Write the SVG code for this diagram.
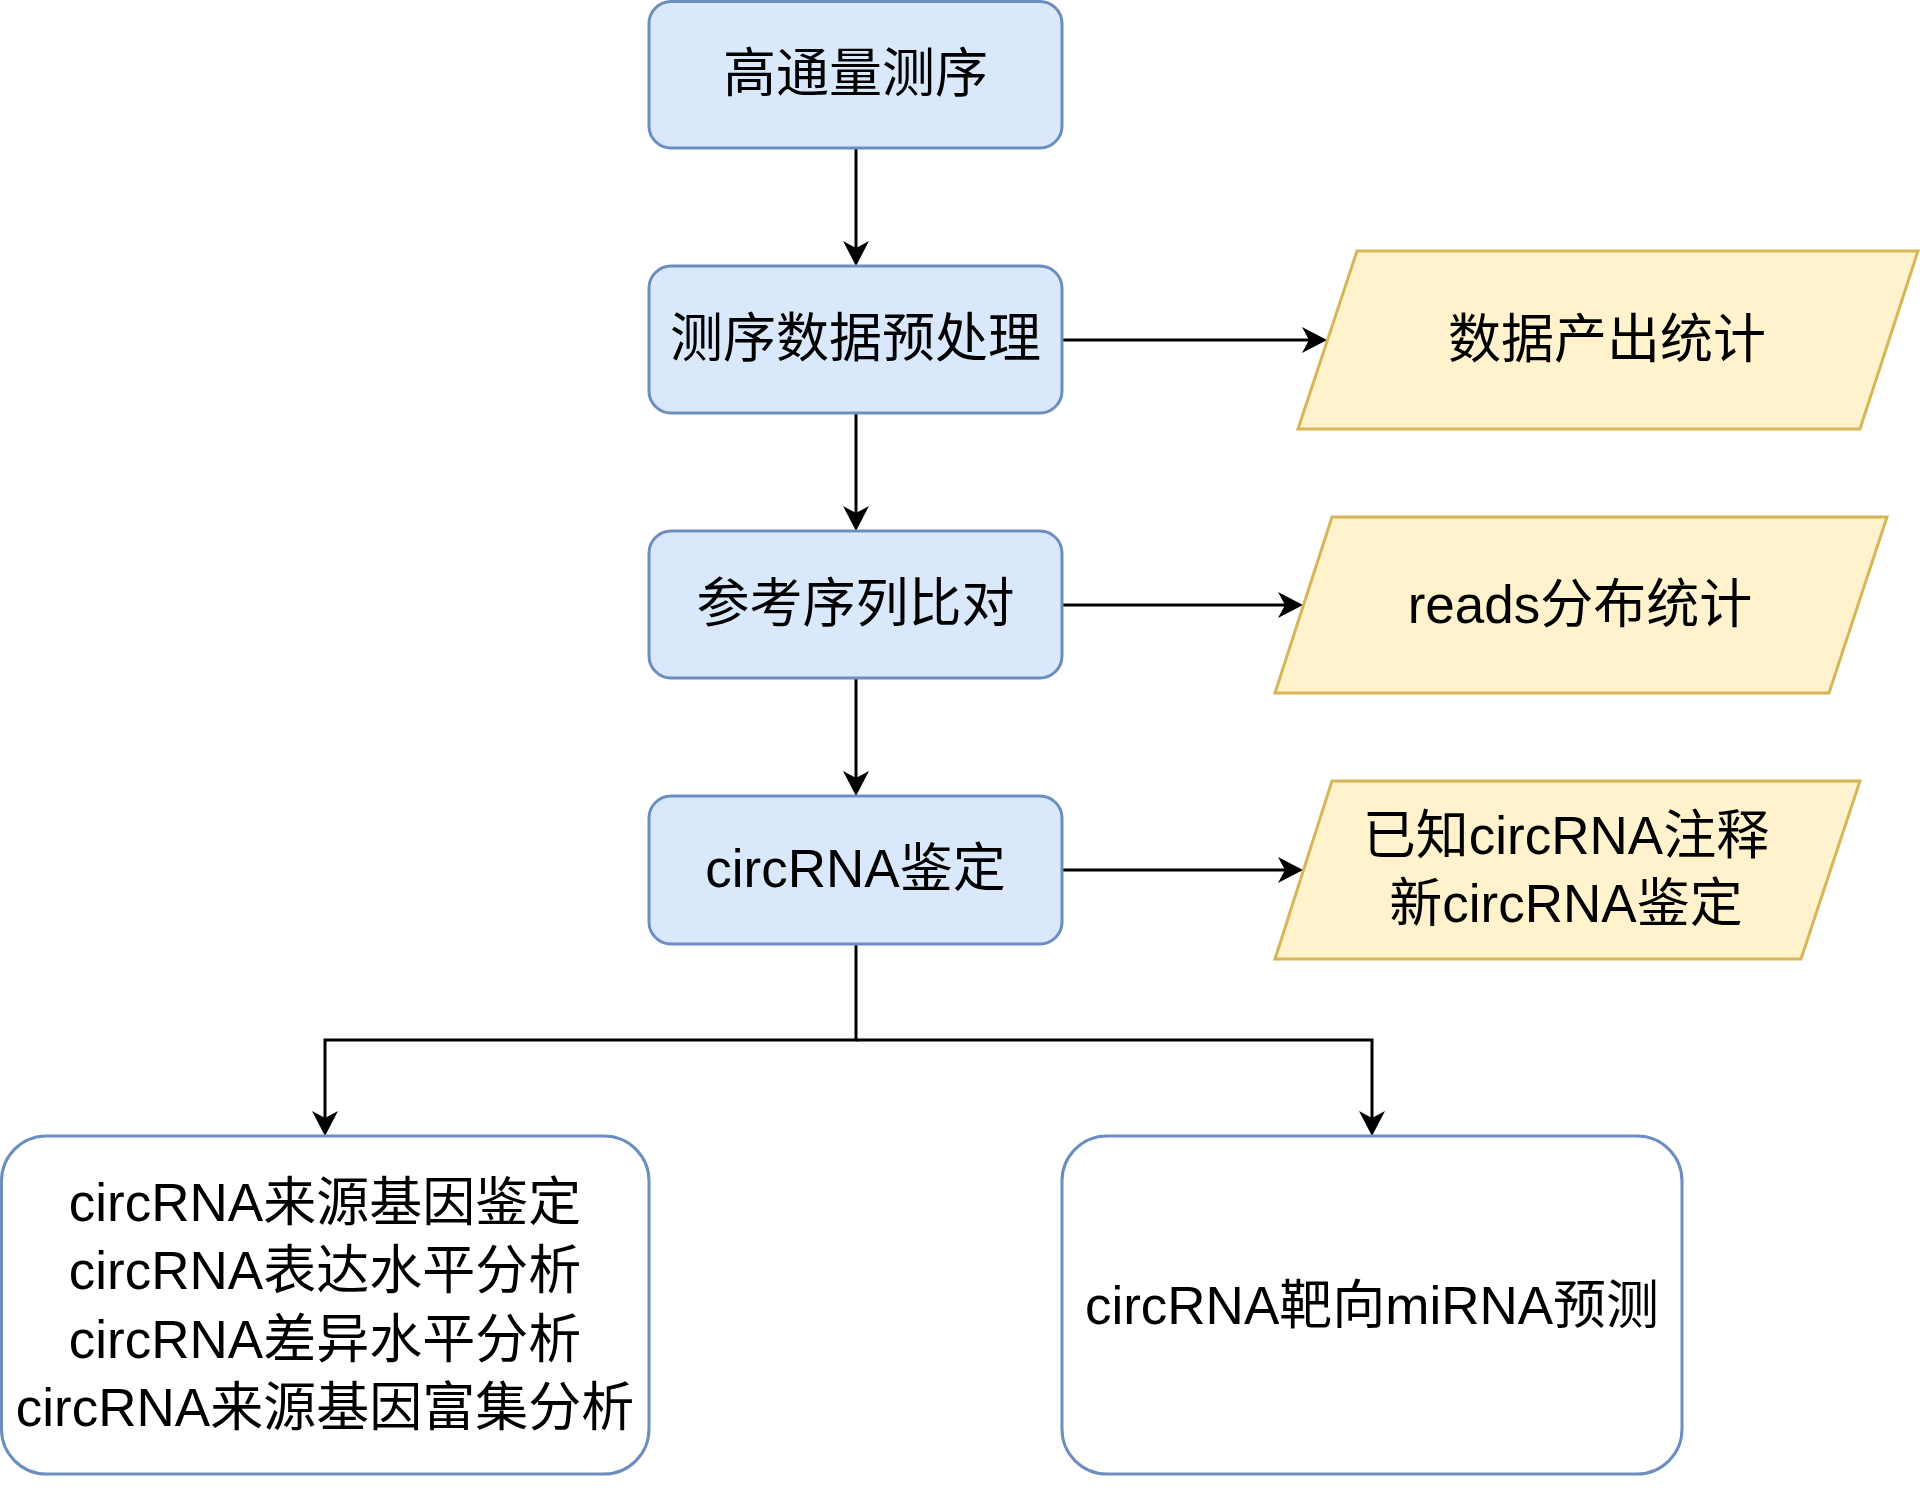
<svg xmlns="http://www.w3.org/2000/svg" width="1920" height="1498" viewBox="0 0 1920 1498">
<style>
.box{fill:#dae8fc;stroke:#6c8ebf;stroke-width:3}
.wbox{fill:#ffffff;stroke:#6c8ebf;stroke-width:3}
.para{fill:#fff2cc;stroke:#d6b656;stroke-width:3}
.t{font-family:"Liberation Sans","Noto Sans CJK SC",sans-serif;font-size:53px;fill:#000;text-anchor:middle}
.c{fill:none;stroke:#000;stroke-width:3}
</style>
<defs>
<marker id="arr" markerUnits="userSpaceOnUse" viewBox="0 0 25 26" refX="20" refY="13" markerWidth="25" markerHeight="26" orient="auto">
<path d="M0,0 L25,13 L0,26 L7,13 Z" fill="#000"/>
</marker>
</defs>
<rect width="1920" height="1498" fill="#ffffff"/>
<g id="connectors">
<path class="c" d="M856,148 V261" marker-end="url(#arr)"/>
<path class="c" d="M856,413 V526" marker-end="url(#arr)"/>
<path class="c" d="M856,678 V791" marker-end="url(#arr)"/>
<path class="c" d="M1062,340 H1322" marker-end="url(#arr)"/>
<path class="c" d="M1062,605 H1298" marker-end="url(#arr)"/>
<path class="c" d="M1062,870 H1298" marker-end="url(#arr)"/>
<path class="c" d="M856,944 V1040 H325 V1131" marker-end="url(#arr)"/>
<path class="c" d="M856,1040 H1372 V1131" marker-end="url(#arr)"/>
</g>
<g id="n1">
<rect class="box" x="649" y="1.5" width="413" height="146.5" rx="22"/>
<text class="t" x="855.5" y="92">高通量测序</text>
</g>
<g id="n2">
<rect class="box" x="649" y="266" width="413" height="147" rx="22"/>
<text class="t" x="855.5" y="357">测序数据预处理</text>
</g>
<g id="n3">
<rect class="box" x="649" y="531" width="413" height="147" rx="22"/>
<text class="t" x="855.5" y="622">参考序列比对</text>
</g>
<g id="n4">
<rect class="box" x="649" y="796" width="413" height="148" rx="22"/>
<text class="t" x="855.5" y="887">circRNA鉴定</text>
</g>
<g id="p1">
<polygon class="para" points="1357,251 1918,251 1860,429 1298,429"/>
<text class="t" x="1607" y="358">数据产出统计</text>
</g>
<g id="p2">
<polygon class="para" points="1332,517 1887,517 1829,693 1275,693"/>
<text class="t" x="1580" y="623">reads分布统计</text>
</g>
<g id="p3">
<polygon class="para" points="1332,781 1860,781 1801,959 1275,959"/>
<text class="t" x="1566" y="854">已知circRNA注释</text>
<text class="t" x="1566" y="922">新circRNA鉴定</text>
</g>
<g id="b1">
<rect class="wbox" x="1.5" y="1136" width="647.5" height="338" rx="45"/>
<text class="t" x="325" y="1221">circRNA来源基因鉴定</text>
<text class="t" x="325" y="1289">circRNA表达水平分析</text>
<text class="t" x="325" y="1358">circRNA差异水平分析</text>
<text class="t" x="325" y="1426">circRNA来源基因富集分析</text>
</g>
<g id="b2">
<rect class="wbox" x="1062" y="1136" width="620" height="338" rx="45"/>
<text class="t" x="1372" y="1324">circRNA靶向miRNA预测</text>
</g>
</svg>
